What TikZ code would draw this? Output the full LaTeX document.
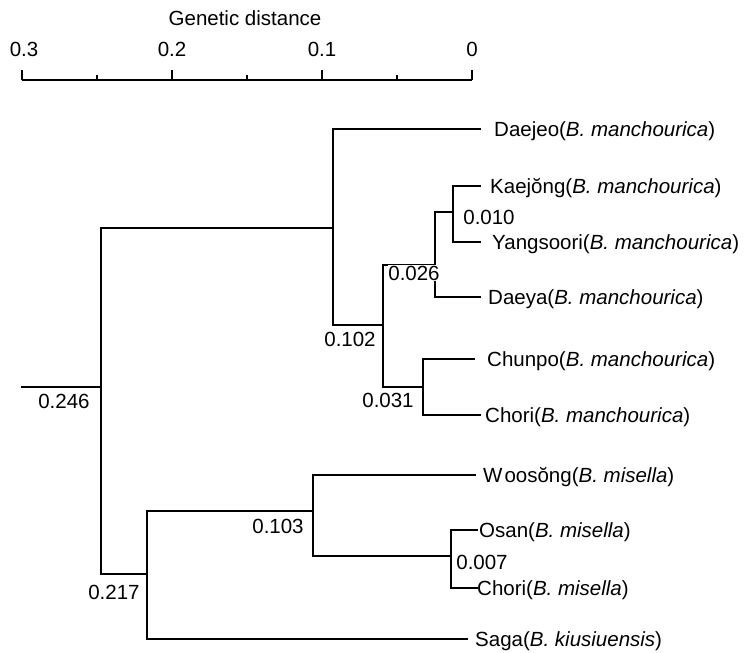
\documentclass[tikz,border=0pt]{standalone}
\usepackage{fontspec}
\setmainfont{Liberation Sans}
\begin{document}
\begin{tikzpicture}[x=1pt,y=-1pt,
  br/.style={line width=1.6pt,line cap=rect},
  leaf/.style={anchor=west,inner sep=0pt,font=\fontsize{20.5}{24}\selectfont},
  dist/.style={inner sep=0.5pt,font=\fontsize{20.5}{24}\selectfont},
  tick/.style={line width=1.3pt}]
\useasboundingbox (0,0) rectangle (744,653);
% scale bar
\coordinate (s0) at (22,80);
\coordinate (s1) at (472,80);
\draw[tick] (s0) -- (s1);
\foreach \x in {22,172,322,472} \draw[tick] (\x,80) -- (\x,70);
\foreach \x in {97,247,397} \draw[tick] (\x,80) -- (\x,75);
\node[dist] (t3) at (24,49) {0.3};
\node[dist] (t2) at (172,49) {0.2};
\node[dist] (t1) at (322,49) {0.1};
\node[dist] (t0) at (472,49) {0};
\node[dist] (title) at (245,18) {Genetic distance};
% internal nodes
\coordinate (r) at (22,387);
\coordinate (n246) at (101,387);
\coordinate (nA) at (333,228);
\coordinate (nC) at (383,325);
\coordinate (nD) at (435,265);
\coordinate (nE) at (453,212);
\coordinate (nF) at (423,387);
\coordinate (n217) at (147,574);
\coordinate (nG) at (313,511);
\coordinate (nH) at (451,556);
% leaf ends
\coordinate (eDaejeo) at (480,129);
\coordinate (eKaejong) at (480,186);
\coordinate (eYang) at (480,242);
\coordinate (eDaeya) at (480,297);
\coordinate (eChunpo) at (474,359);
\coordinate (eChoriM) at (480,415);
\coordinate (eWoo) at (475,475);
\coordinate (eOsan) at (477,530);
\coordinate (eChoriS) at (477,588);
\coordinate (eSaga) at (467,639);
% branches
\draw[br] (r) -- (n246);
\draw[br] (n246) |- (nA);
\draw[br] (n246) |- (n217);
\draw[br] (nA) |- (eDaejeo);
\draw[br] (nA) |- (nC);
\draw[br] (nC) |- (nD);
\draw[br] (nC) |- (nF);
\draw[br] (nD) |- (nE);
\draw[br] (nD) |- (eDaeya);
\draw[br] (nE) |- (eKaejong);
\draw[br] (nE) |- (eYang);
\draw[br] (nF) |- (eChunpo);
\draw[br] (nF) |- (eChoriM);
\draw[br] (n217) |- (nG);
\draw[br] (n217) |- (eSaga);
\draw[br] (nG) |- (eWoo);
\draw[br] (nG) |- (nH);
\draw[br] (nH) |- (eOsan);
\draw[br] (nH) |- (eChoriS);
% leaf labels
\node[leaf] (lDaejeo) at (494,131) {Daejeo(\textit{B. manchourica})};
\node[leaf] (lKaejong) at (490,188) {Kaejŏng(\textit{B. manchourica})};
\node[leaf] (lYang) at (492,244) {Yangsoori(\textit{B. manchourica})};
\node[leaf] (lDaeya) at (488,299) {Daeya(\textit{B. manchourica})};
\node[leaf] (lChunpo) at (487,361) {Chunpo(\textit{B. manchourica})};
\node[leaf] (lChoriM) at (485,417) {Chori(\textit{B. manchourica})};
\node[leaf] (lWoo) at (483,477) {W\kern2pt oosŏng(\textit{B. misella})};
\node[leaf] (lOsan) at (479,532) {Osan(\textit{B. misella})};
\node[leaf] (lChoriS) at (477,590) {Chori(\textit{B. misella})};
\node[leaf] (lSaga) at (475,641) {Saga(\textit{B. kiusiuensis})};
% distance labels
\node[dist] (d246) at (64,401) {0.246};
\node[dist] (d102) at (350,339) {0.102};
\node[dist,fill=white] (d026) at (414,273) {0.026};
\node[dist] (d010) at (489,217) {0.010};
\node[dist] (d031) at (388,400) {0.031};
\node[dist] (d103) at (278,526) {0.103};
\node[dist] (d217) at (114,592) {0.217};
\node[dist] (d007) at (482,562) {0.007};
\end{tikzpicture}
\end{document}
